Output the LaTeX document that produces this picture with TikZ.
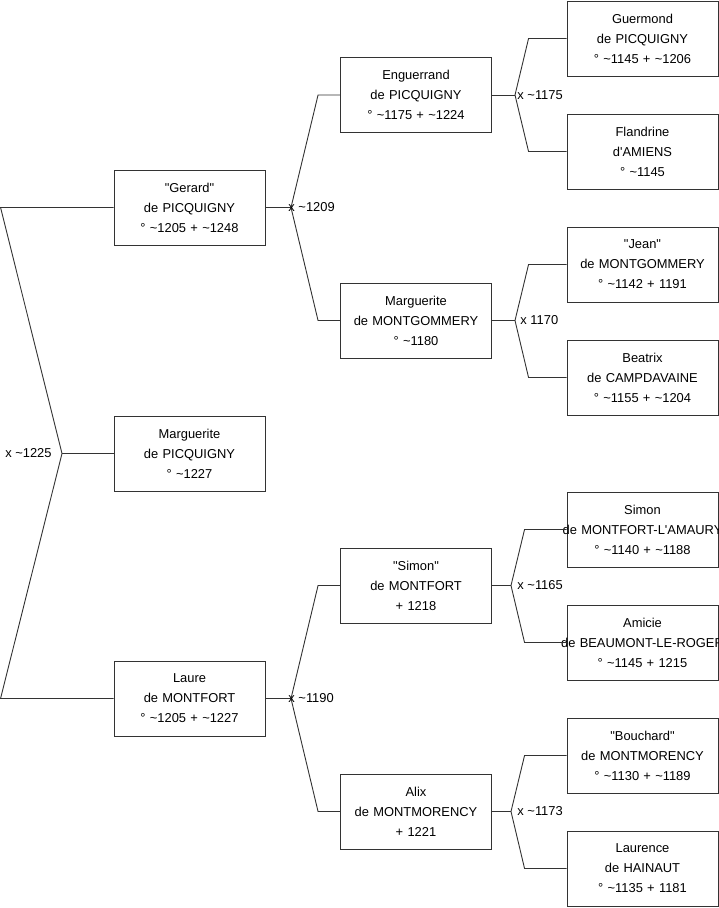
\documentclass[tikz,border=0pt]{standalone}
\usepackage{fontspec}
\newfontfamily\arialfont{Liberation Sans}
\usepackage{tikz}
\usetikzlibrary{positioning,calc}

\newcommand\ca{\textasciitilde}
\newcommand\wide[1]{\makebox[0pt]{#1}}

\begin{document}
\begin{tikzpicture}[
  x=1pt,y=-1pt,
  line width=0.9pt,
  pers/.style={draw=black!80,text=black,align=center,text width=147pt,inner xsep=2pt,
               minimum height=75pt,font=\arialfont\fontsize{12.9}{20}\selectfont},
  mar/.style={anchor=west,inner sep=0pt,font=\arialfont\fontsize{12.9}{15}\selectfont},
  lien/.style={draw=black!80}
]
  \path[use as bounding box,fill=white] (0,0) rectangle (719,908);

  % generation 0 et 1
  \node[pers] (marg) at (189.5,453.5) {Marguerite\\ de PICQUIGNY\\ ° \ca1227};
  \node[pers] (ger)  at (189.5,207.5) {"Gerard"\\ de PICQUIGNY\\ ° \ca1205 + \ca1248};
  \node[pers] (laure) at (189.5,698.5) {Laure\\ de MONTFORT\\ ° \ca1205 + \ca1227};

  % generation 2
  \node[pers] (eng)  at (416,95)    {Enguerrand\\ de PICQUIGNY\\ ° \ca1175 + \ca1224};
  \node[pers] (mgom) at (416,320.5) {Marguerite\\ de MONTGOMMERY\\ ° \ca1180};
  \node[pers] (sim)  at (416,585.5) {"Simon"\\ de MONTFORT\\ + 1218};
  \node[pers] (alix) at (416,811.5) {Alix\\ de MONTMORENCY\\ + 1221};

  % generation 3
  \node[pers] (guer) at (642.5,38.5)  {Guermond\\ de PICQUIGNY\\ ° \ca1145 + \ca1206};
  \node[pers] (fla)  at (642.5,151.5) {Flandrine\\ d'AMIENS\\ ° \ca1145};
  \node[pers] (jean) at (642.5,264.5) {"Jean"\\ de MONTGOMMERY\\ ° \ca1142 + 1191};
  \node[pers] (bea)  at (642.5,377.5) {Beatrix\\ de CAMPDAVAINE\\ ° \ca1155 + \ca1204};
  \node[pers] (simA) at (642.5,529.5) {Simon\\ \wide{de MONTFORT-L'AMAURY}\\ ° \ca1140 + \ca1188};
  \node[pers] (ami)  at (642.5,642.5) {Amicie\\ \wide{de BEAUMONT-LE-ROGER}\\ ° \ca1145 + 1215};
  \node[pers] (bou)  at (642.5,755.5) {"Bouchard"\\ de MONTMORENCY\\ ° \ca1130 + \ca1189};
  \node[pers] (lau)  at (642.5,868.5) {Laurence\\ de HAINAUT\\ ° \ca1135 + 1181};

  % mariages
  \coordinate (m0) at (62,453.5);
  \coordinate (m1) at (291,207.5);
  \coordinate (m2) at (291,698.5);
  \coordinate (m3) at (515,95);
  \coordinate (m4) at (515,320.5);
  \coordinate (m5) at (511,585.5);
  \coordinate (m6) at (511,811.5);

  \draw[lien] (marg.west) -- (m0);
  \draw[lien] (m0) -- ([xshift=-113pt]ger.west) -- (ger.west);
  \draw[lien] (m0) -- ([xshift=-113pt]laure.west) -- (laure.west);
  \node[mar,anchor=east,xshift=-10pt] at (m0) {x \ca1225};

  \draw[lien] (ger.east) -- (m1);
  \draw[lien] (m1) -- ([xshift=-22pt]eng.west) -- (eng.west);
  \draw[lien] (m1) -- ([xshift=-22pt]mgom.west) -- (mgom.west);
  \node[mar,xshift=-3pt] at (m1) {x \ca1209};

  \draw[lien] (laure.east) -- (m2);
  \draw[lien] (m2) -- ([xshift=-22pt]sim.west) -- (sim.west);
  \draw[lien] (m2) -- ([xshift=-22pt]alix.west) -- (alix.west);
  \node[mar,xshift=-3pt] at (m2) {x \ca1190};

  \draw[lien] (eng.east) -- (m3);
  \draw[lien] (m3) -- ([xshift=-38pt]guer.west) -- (guer.west);
  \draw[lien] (m3) -- ([xshift=-38pt]fla.west) -- (fla.west);
  \node[mar,xshift=2pt] at (m3) {x \ca1175};

  \draw[lien] (mgom.east) -- (m4);
  \draw[lien] (m4) -- ([xshift=-38pt]jean.west) -- (jean.west);
  \draw[lien] (m4) -- ([xshift=-38pt]bea.west) -- (bea.west);
  \node[mar,xshift=5pt] at (m4) {x 1170};

  \draw[lien] (sim.east) -- (m5);
  \draw[lien] (m5) -- ([xshift=-42pt]simA.west) -- (simA.west);
  \draw[lien] (m5) -- ([xshift=-42pt]ami.west) -- (ami.west);
  \node[mar,xshift=6pt] at (m5) {x \ca1165};

  \draw[lien] (alix.east) -- (m6);
  \draw[lien] (m6) -- ([xshift=-42pt]bou.west) -- (bou.west);
  \draw[lien] (m6) -- ([xshift=-42pt]lau.west) -- (lau.west);
  \node[mar,xshift=6pt] at (m6) {x \ca1173};
\end{tikzpicture}
\end{document}
